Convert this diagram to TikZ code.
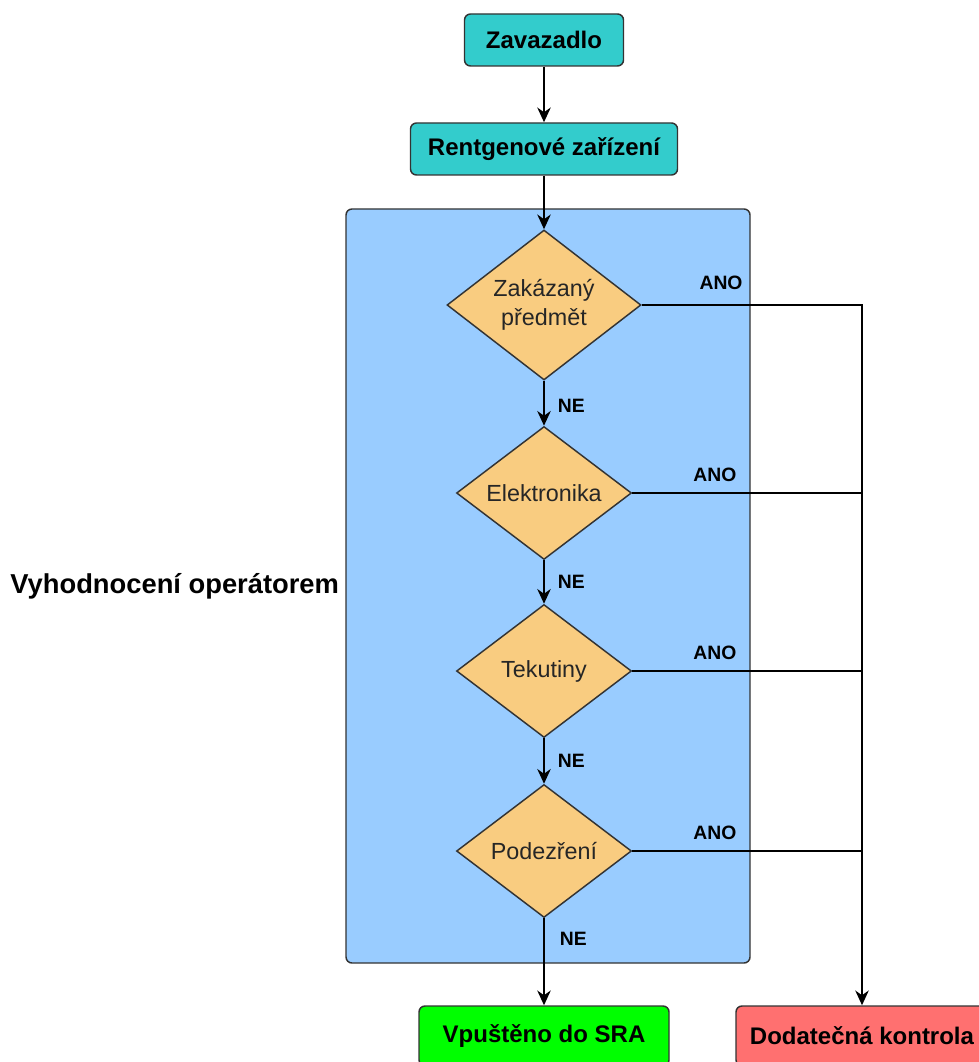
\documentclass[tikz,border=0pt]{standalone}
\usepackage{fontspec}
\setmainfont{Liberation Sans}
\usetikzlibrary{shapes.geometric,arrows.meta,positioning}
\definecolor{boxteal}{RGB}{51,204,204}
\definecolor{stageblue}{RGB}{153,204,255}
\definecolor{askorange}{RGB}{249,204,128}
\definecolor{passgreen}{RGB}{0,255,0}
\definecolor{checkred}{RGB}{255,112,112}
\definecolor{edgegray}{RGB}{51,51,51}
\begin{document}
\begin{tikzpicture}[x=0.75pt,y=-0.75pt,
  box/.style={draw=edgegray,line width=1.1pt,rounded corners=4.5pt,minimum height=39pt,inner sep=0pt,font=\fontsize{18}{21}\selectfont\bfseries},
  ask/.style={diamond,draw=edgegray,line width=1.1pt,fill=askorange,aspect=1.3,inner sep=0pt,minimum width=131.25pt,minimum height=99.75pt,align=center,text=black!85,font=\fontsize{17.5}{21.75}\selectfont},
  lbl/.style={inner sep=0pt,font=\fontsize{14.5}{17}\selectfont\bfseries},
  arr/.style={line width=1.8pt,-{Stealth[length=11pt,width=10pt,inset=3.5pt]}},
  wire/.style={line width=1.8pt}]
\useasboundingbox (0,0) rectangle (978,1062);
\node[box,fill=boxteal,minimum width=119.25pt] (bag) at (544,40) {Zavazadlo};
\node[box,fill=boxteal,minimum width=200.25pt] (xray) at (544,149) {Rentgenové zařízení};
\node[draw=edgegray,line width=1.1pt,fill=stageblue,rounded corners=4.5pt,minimum width=303pt,minimum height=565.5pt] (stage) at (548,586) {};
\node[lbl,font=\fontsize{20.5}{24}\selectfont\bfseries,left=4.5pt of stage] (phase) {Vyhodnocení operátorem};
\node[ask,minimum width=145.5pt,minimum height=112.5pt] (q1) at (544,305) {Zakázaný\\předmět};
\node[ask] (q2) at (544,493) {Elektronika};
\node[ask] (q3) at (544,671) {Tekutiny};
\node[ask] (q4) at (544,851) {Podezření};
\node[box,fill=passgreen,minimum width=187.5pt,minimum height=45pt] (pass) at (544,1036) {Vpuštěno do SRA};
\node[box,fill=checkred,minimum width=189pt,minimum height=45pt] (check) at (862,1036) {Dodatečná kontrola};
\draw[arr] (bag) -- (xray);
\draw[arr] (xray) -- (q1);
\draw[arr] (q1) -- node[lbl,right=9.5pt,pos=0.55] (ne1) {NE} (q2);
\draw[arr] (q2) -- node[lbl,right=9.5pt,pos=0.5] (ne2) {NE} (q3);
\draw[arr] (q3) -- node[lbl,right=9.5pt,pos=0.5] (ne3) {NE} (q4);
\draw[arr] (q4) -- node[lbl,right=11pt,pos=0.24] (ne4) {NE} (pass);
\coordinate (bus) at (check.north |- q1.east);
\draw[arr] (q1.east) -- node[lbl,above=10.5pt,pos=0.36] (ano1) {ANO} (bus) -- (check.north);
\foreach \q in {q2,q3,q4}
  \draw[wire] (\q.east) -- node[lbl,above=7.5pt,pos=0.36] (ano\q) {ANO} (\q.east -| bus);
\end{tikzpicture}
\end{document}
